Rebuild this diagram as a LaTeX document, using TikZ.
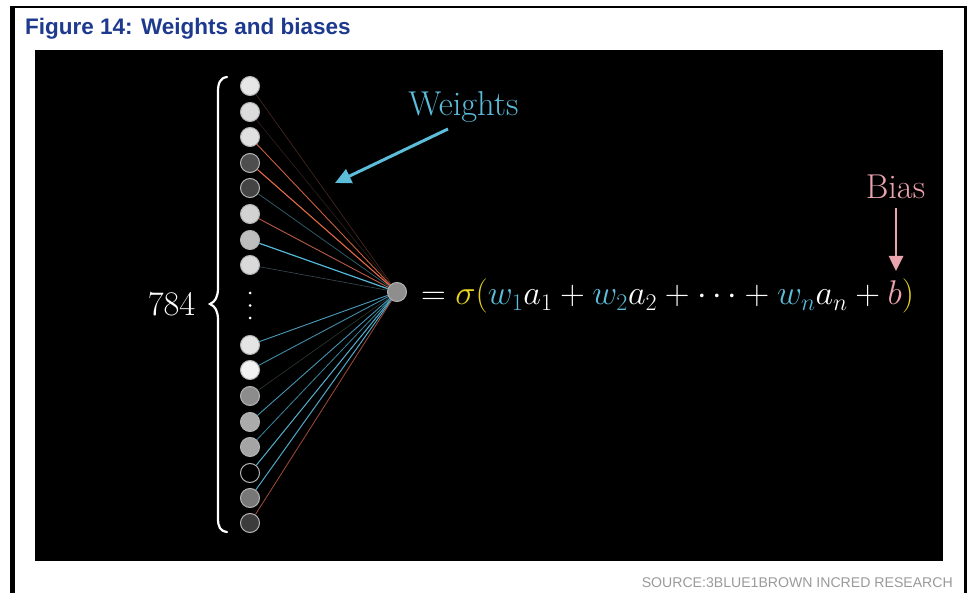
\RequirePackage{fix-cm}
\documentclass[tikz,border=0pt]{standalone}
\usepackage{fontspec}
\newfontfamily\arial{Liberation Sans}
\usetikzlibrary{arrows.meta}
\definecolor{titleblue}{HTML}{1E3A8E}
\definecolor{srcgray}{HTML}{9A9A9A}
\definecolor{wblue}{HTML}{5CBDDB}
\definecolor{bpink}{HTML}{EBA3AE}
\definecolor{syellow}{HTML}{E8D41E}
\definecolor{noutline}{HTML}{B4B4B4}
\pgfdeclarelayer{back}
\pgfdeclarelayer{bg}
\pgfsetlayers{back,bg,main}
\begin{document}
\begin{tikzpicture}[x=1pt,y=-1pt,
  neuron/.style={circle, minimum size=19pt, inner sep=0pt, draw=noutline, line width=1pt},
  dotn/.style={circle, fill=white, inner sep=0pt, minimum size=3pt},
  bigtxt/.style={inner sep=0pt, font=\fontsize{34.5}{34.5}\selectfont},
  eqtxt/.style={inner sep=0pt, font=\fontsize{34.3}{34.3}\selectfont},
  warrow/.style={draw=wblue, line width=3pt, -{Triangle[length=16pt,width=15pt]}},
  barrow/.style={draw=bpink, line width=2.6pt, -{Triangle[length=15pt,width=14pt]}}]
\useasboundingbox (0,0) rectangle (974,593);
\begin{pgfonlayer}{back}
  \fill[white] (0,0) rectangle (974,593);
  \fill[black] (10,6) rectangle (15,593);
  \fill[black] (10,6) rectangle (967,8.5);
  \fill[black] (964,6) rectangle (967,593);
  \fill[black] (35,50) rectangle (943,561);
\end{pgfonlayer}
% title and source
\node[anchor=base west, inner sep=0pt, text=titleblue, font=\arial\bfseries\fontsize{22.5}{24}\selectfont] (title) at (25,35) {Figure 14: Weights and biases};
\node[anchor=base east, inner sep=0pt, text=srcgray, font=\arial\fontsize{14.1}{16}\selectfont] (src) at (953,587) {SOURCE:3BLUE1BROWN INCRED RESEARCH};
% output neuron
\definecolor{outf}{HTML}{8E8E8E}
\node[neuron, fill=outf] (out) at (397,292) {};
% input neurons and weights
\foreach \i/\y/\f/\c/\w in {
1/86/E6E6E6/4A2A22/0.6,
2/112/DCDCDC/33211C/0.6,
3/137/E0E0E0/C8603F/0.9,
4/163/4E4E4E/E46A45/1.1,
5/188/444444/2E5A66/0.8,
6/214/D2D2D2/B85A45/0.9,
7/240/BDBDBD/55B8D8/1.2,
8/265/DADADA/3A4A52/0.6,
9/345/E4E4E4/4A9CBC/0.9,
10/370/F2F2F2/3E8CAA/0.9,
11/396/8C8C8C/2A3A30/0.6,
12/422/ABABAB/4593B0/0.9,
13/447/A4A4A4/3A86A0/0.8,
14/473/000000/55B0D0/1.0,
15/498/777777/4FA8C8/1.0,
16/523/3C3C3C/A04A38/0.8}
{
  \definecolor{nf}{HTML}{\f}\definecolor{ec}{HTML}{\c}
  \node[neuron, fill=nf] (n\i) at (250,\y) {};
  \begin{pgfonlayer}{bg}
    \draw[draw=ec, line width=\w pt] (n\i) -- (out);
  \end{pgfonlayer}
}
% vertical dots
\node[dotn] (d1) at (250,293) {};
\node[dotn] (d2) at (250,305.5) {};
\node[dotn] (d3) at (250,318) {};
% brace
\draw[white, line width=2.2pt, line cap=round]
  (227,77) .. controls (220,78) and (218,83) .. (218,92) -- (218,288)
  .. controls (218,297) and (215,302) .. (210,304)
  .. controls (215,306) and (218,311) .. (218,320) -- (218,518)
  .. controls (218,527) and (220,531) .. (227,532);
\node[bigtxt, text=white, anchor=base] (n784) at (171.5,316) {$784$};
% Weights label and arrow
\node[bigtxt, text=wblue, anchor=base] (wlab) at (463.5,116) {Weights};
\coordinate (wa) at (448,129);
\coordinate (wb) at (335,183);
\draw[warrow] (wa) -- (wb);
% Bias label and arrow
\node[bigtxt, text=bpink, anchor=base] (blab) at (895.5,199) {Bias};
\coordinate (ba) at (896,208);
\coordinate (bb) at (896,271);
\draw[barrow] (ba) -- (bb);
% equation
\node[eqtxt, text=white, anchor=base west] (eq) at (421,305)
 {$=\textcolor{syellow}{\sigma(}\textcolor{wblue}{w_1}a_1+\textcolor{wblue}{w_2}a_2+\cdots+\textcolor{wblue}{w_n}a_n+\textcolor{bpink}{b}\textcolor{syellow}{)}$};
\end{tikzpicture}
\end{document}
